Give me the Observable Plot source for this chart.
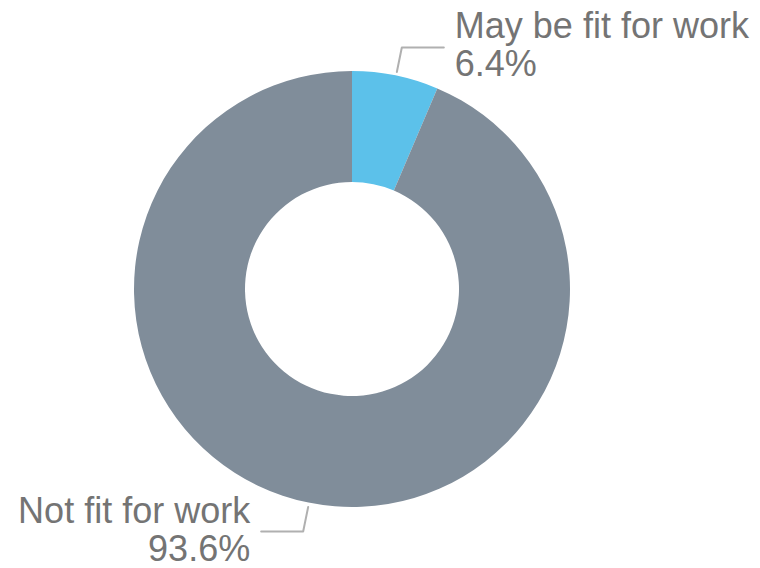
<!DOCTYPE html>
<html><head><meta charset="utf-8">
<script src="https://cdn.jsdelivr.net/npm/d3@7"></script>
<script src="https://cdn.jsdelivr.net/npm/@observablehq/plot@0.6"></script>
<style>body{margin:0;background:#fff}</style>
</head><body><div id="chart"></div>
<script>
const categories = ["May be fit for work", "Not fit for work"];
const values = [6.4, 93.6];
const valueLabels = ["6.4%", "93.6%"];
const colors = ["#5cc1ea", "#808d9a"];

const W = 760, H = 568;
const cx = 352, cy = 289, rOuter = 218, rInner = 107;
const fontSize = 36;

const data = categories.map((c, i) => ({category: c, value: values[i], label: valueLabels[i], color: colors[i]}));
const arcs = d3.pie().sort(null).value(d => d.value)(data);
const polar = (r, a) => [cx + r * Math.sin(a), cy - r * Math.cos(a)];

const leaders = [];
const labels = [];
arcs.forEach(a => {
  const mid = (a.startAngle + a.endAngle) / 2;
  const side = Math.sin(mid) >= 0 ? 1 : -1;
  const p0 = polar(rOuter + 4, mid);
  const p1 = polar(rOuter + 29, mid);
  const p2 = [p1[0] + side * 42, p1[1]];
  [p0, p1, p2].forEach(p => leaders.push({category: a.data.category, x: p[0], y: p[1]}));
  const tx = p2[0] + side * 11;
  labels.push({text: a.data.category, x: tx, y: p1[1] - 9 - 0.32 * fontSize, side});
  labels.push({text: a.data.label, x: tx, y: p1[1] + 29 - 0.32 * fontSize, side});
});

const slices = () => {
  const g = d3.create("svg:g").attr("transform", `translate(${cx},${cy})`);
  const arcGen = d3.arc().innerRadius(rInner).outerRadius(rOuter);
  g.selectAll("path").data(arcs).join("path")
    .attr("d", arcGen)
    .attr("fill", d => d.data.color);
  return g.node();
};

const textOpts = {x: "x", y: "y", text: "text", fill: "#747474", fontSize, fontFamily: "Liberation Sans, Arial, sans-serif"};

const chart = Plot.plot({
  width: W, height: H,
  margin: 0,
  x: {type: "identity", axis: null},
  y: {type: "identity", axis: null},
  style: {background: "#fff"},
  marks: [
    slices,
    Plot.line(leaders, {x: "x", y: "y", z: "category", stroke: "#b0b0b0", strokeWidth: 2}),
    Plot.text(labels.filter(d => d.side > 0), {...textOpts, textAnchor: "start"}),
    Plot.text(labels.filter(d => d.side < 0), {...textOpts, textAnchor: "end"})
  ]
});
document.getElementById("chart").appendChild(chart);
</script>
</body></html>
